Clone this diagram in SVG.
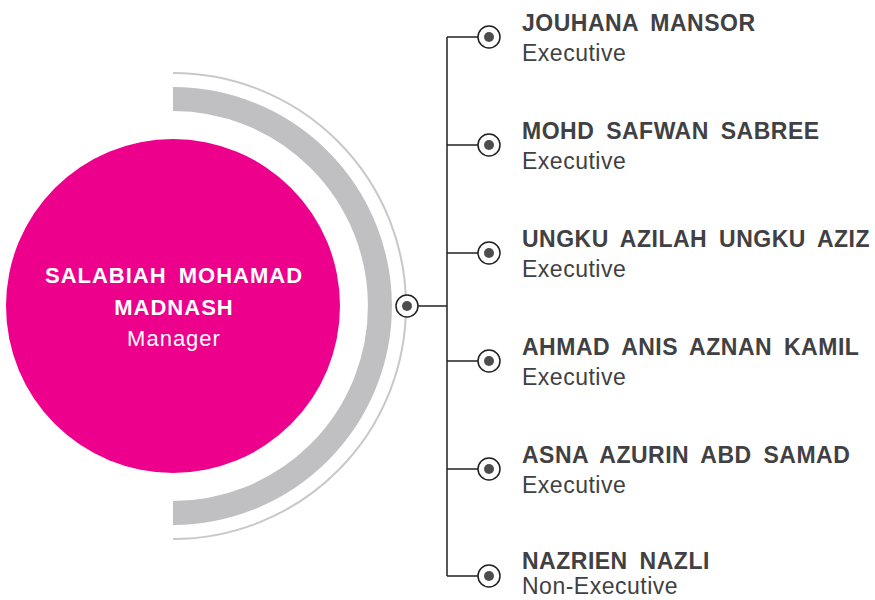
<svg xmlns="http://www.w3.org/2000/svg" width="875" height="600" viewBox="0 0 875 600">
<style>
.name{font-family:"Liberation Sans",Arial,sans-serif;font-weight:bold;font-size:23px;letter-spacing:0.5px;word-spacing:5px;fill:#414042}
.role{font-family:"Liberation Sans",Arial,sans-serif;font-size:23px;letter-spacing:0.5px;fill:#414042}
.ctr{font-family:"Liberation Sans",Arial,sans-serif;font-size:22px;letter-spacing:1px;fill:#ffffff;text-anchor:middle}
.line{stroke:#231f20;stroke-width:1.5;fill:none}
.ring{fill:#ffffff;stroke:#231f20;stroke-width:1.5}
.dot{fill:#4d4d4f}
</style>
<rect width="875" height="600" fill="#ffffff"/>
<g id="decor">
<path d="M173,73 A233,233 0 0 1 173,539" fill="none" stroke="#c8c8ca" stroke-width="2"/>
<path d="M173,99 A207,207 0 0 1 173,513" fill="none" stroke="#c0c0c2" stroke-width="24"/>
</g>
<g id="manager">
<circle cx="173" cy="306" r="167" fill="#ec008c"/>
<text class="ctr" x="174" y="283" font-weight="bold" word-spacing="5">SALABIAH MOHAMAD</text>
<text class="ctr" x="174" y="315" font-weight="bold">MADNASH</text>
<text class="ctr" x="174" y="346">Manager</text>
</g>
<g id="connectors">
<line class="line" x1="418" y1="306" x2="447" y2="306"/>
<line class="line" x1="447" y1="37" x2="447" y2="576"/>
<line class="line" x1="447" y1="37" x2="478" y2="37"/>
<line class="line" x1="447" y1="145" x2="478" y2="145"/>
<line class="line" x1="447" y1="253" x2="478" y2="253"/>
<line class="line" x1="447" y1="361" x2="478" y2="361"/>
<line class="line" x1="447" y1="469" x2="478" y2="469"/>
<line class="line" x1="447" y1="576" x2="478" y2="576"/>
<circle class="ring" cx="407" cy="306" r="11"/>
<circle class="dot" cx="407" cy="306" r="5"/>
</g>
<g id="n1">
<circle class="ring" cx="489" cy="37" r="11"/><circle class="dot" cx="489" cy="37" r="5"/>
<text class="name" x="522" y="31">JOUHANA MANSOR</text>
<text class="role" x="522" y="61">Executive</text>
</g>
<g id="n2">
<circle class="ring" cx="489" cy="145" r="11"/><circle class="dot" cx="489" cy="145" r="5"/>
<text class="name" x="522" y="139">MOHD SAFWAN SABREE</text>
<text class="role" x="522" y="169">Executive</text>
</g>
<g id="n3">
<circle class="ring" cx="489" cy="253" r="11"/><circle class="dot" cx="489" cy="253" r="5"/>
<text class="name" x="522" y="247">UNGKU AZILAH UNGKU AZIZ</text>
<text class="role" x="522" y="277">Executive</text>
</g>
<g id="n4">
<circle class="ring" cx="489" cy="361" r="11"/><circle class="dot" cx="489" cy="361" r="5"/>
<text class="name" x="522" y="355">AHMAD ANIS AZNAN KAMIL</text>
<text class="role" x="522" y="385">Executive</text>
</g>
<g id="n5">
<circle class="ring" cx="489" cy="469" r="11"/><circle class="dot" cx="489" cy="469" r="5"/>
<text class="name" x="522" y="463">ASNA AZURIN ABD SAMAD</text>
<text class="role" x="522" y="493">Executive</text>
</g>
<g id="n6">
<circle class="ring" cx="489" cy="576" r="11"/><circle class="dot" cx="489" cy="576" r="5"/>
<text class="name" x="522" y="569">NAZRIEN NAZLI</text>
<text class="role" x="522" y="594">Non-Executive</text>
</g>
</svg>
